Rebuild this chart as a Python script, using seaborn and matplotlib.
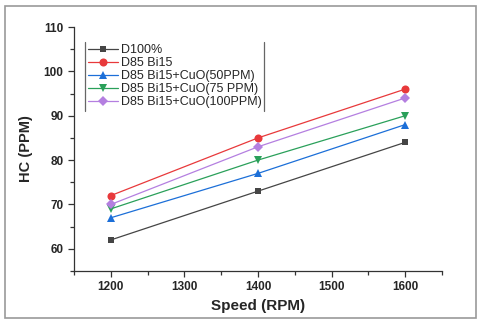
import matplotlib
matplotlib.use("Agg")
import matplotlib.pyplot as plt
import matplotlib.patches as mpatches
from matplotlib.lines import Line2D
from matplotlib.ticker import MultipleLocator
import pandas as pd
import seaborn as sns

speed = [1200, 1400, 1600]
series_names = [
    "D100%",
    "D85 Bi15",
    "D85 Bi15+CuO(50PPM)",
    "D85 Bi15+CuO(75 PPM)",
    "D85 Bi15+CuO(100PPM)",
]
d100 = [62, 73, 84]
d85_bi15 = [72, 85, 96]
cuo_50 = [67, 77, 88]
cuo_75 = [69, 80, 90]
cuo_100 = [70, 83, 94]

colors = ["#454545", "#e8393b", "#1c6fd8", "#2aa05a", "#b47fe0"]
markers = ["s", "o", "^", "v", "D"]
marker_sizes = {"s": 4.9, "o": 5.8, "^": 6.2, "v": 6.2, "D": 4.8}

rows = []
for name, vals in zip(series_names, [d100, d85_bi15, cuo_50, cuo_75, cuo_100]):
    for s, v in zip(speed, vals):
        rows.append({"Speed": s, "HC": v, "Series": name})
df = pd.DataFrame(rows)

sns.set_theme(style="ticks")
plt.rcParams["font.family"] = ["Liberation Sans", "DejaVu Sans"]

fig = plt.figure(figsize=(4.8, 3.24), dpi=100)
ax = fig.add_axes([74 / 480, 1 - 271 / 324, 368 / 480, 244 / 324])

sns.lineplot(
    data=df, x="Speed", y="HC", hue="Series", style="Series",
    palette=colors, markers=markers, dashes=False,
    markeredgewidth=0, linewidth=0.9, ax=ax,
)
for line in ax.lines:
    m = line.get_marker()
    if m in marker_sizes:
        line.set_markersize(marker_sizes[m])
        line.set_markeredgewidth(0)

ax.set_xlim(1150, 1650)
ax.set_ylim(55, 110)
ax.xaxis.set_major_locator(MultipleLocator(100))
ax.xaxis.set_minor_locator(MultipleLocator(50))
ax.yaxis.set_major_locator(MultipleLocator(10))
ax.yaxis.set_minor_locator(MultipleLocator(5))
ax.tick_params(which="major", length=4, width=0.9, color="#333", labelsize=8.5)
ax.tick_params(which="minor", length=3, width=0.9, color="#333")
for lab in ax.get_xticklabels() + ax.get_yticklabels():
    lab.set_fontweight("bold")
for sp in ["top", "right"]:
    ax.spines[sp].set_visible(False)
for sp in ["left", "bottom"]:
    ax.spines[sp].set_color("#333")
    ax.spines[sp].set_linewidth(0.9)

ax.set_xlabel("Speed (RPM)", fontsize=11, fontweight="bold", labelpad=4)
ax.set_ylabel("HC (PPM)", fontsize=10.5, fontweight="bold", labelpad=8)

leg = ax.legend(
    loc="upper left", bbox_to_anchor=(0.03, 0.94), fontsize=9,
    frameon=False, handlelength=2.4,
    labelspacing=0.08, borderpad=0.2, borderaxespad=0, handletextpad=0.25,
)
for h in leg.legend_handles:
    m = h.get_marker()
    if m in marker_sizes:
        h.set_markersize(marker_sizes[m])
        h.set_markeredgewidth(0)

# legend box shows only its left and right edges
fig.canvas.draw()
bb = leg.get_window_extent().transformed(fig.transFigure.inverted())
for xe in (bb.x0, bb.x1):
    fig.add_artist(Line2D([xe, xe], [bb.y0, bb.y1], transform=fig.transFigure,
                          color="#666", linewidth=0.9))

fig.patches.append(mpatches.Rectangle(
    (5 / 480, 6 / 324), 471 / 480, 312 / 324, transform=fig.transFigure,
    fill=False, edgecolor="#999", linewidth=1.2,
))

fig.savefig("out.png", dpi=100)
